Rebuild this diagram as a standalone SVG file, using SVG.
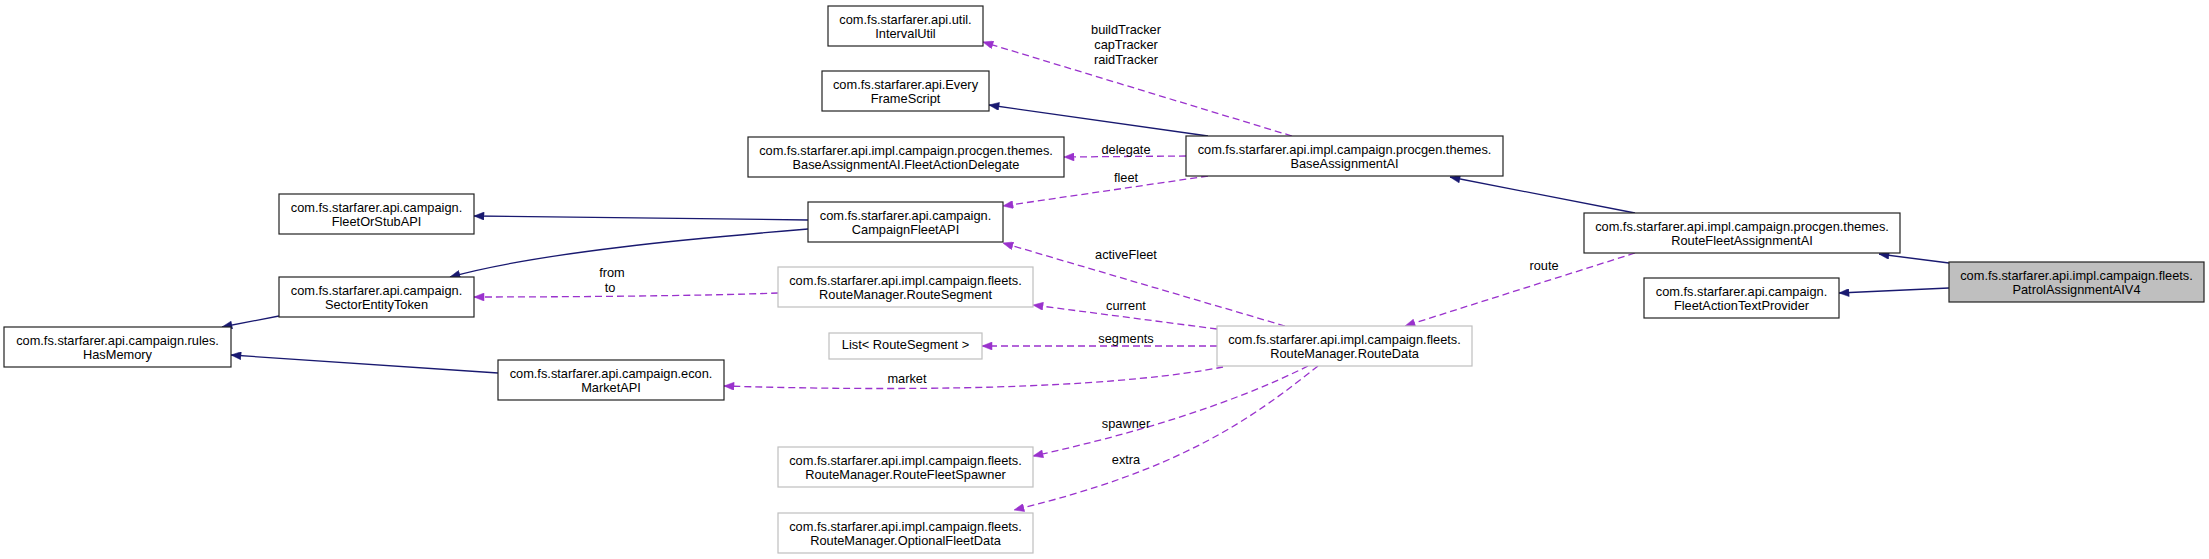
<svg xmlns="http://www.w3.org/2000/svg" width="2209" height="559" viewBox="0 0 2209 559">
<style>
text{font-family:"Liberation Sans",Arial,Helvetica,sans-serif;font-size:12.8px;fill:#000;text-anchor:middle}
.n{fill:#fff;stroke:#222;stroke-width:1.2}
.u{fill:#fff;stroke:#bfbfbf;stroke-width:1.2}
.me{fill:#bfbfbf;stroke:#222;stroke-width:1.2}
.s{fill:none;stroke:#191970;stroke-width:1.3}
.d{fill:none;stroke:#9a32cd;stroke-width:1.3;stroke-dasharray:7,4}
</style>
<defs>
<marker id="as" viewBox="0 0 10 8" refX="10" refY="4" markerWidth="11" markerHeight="8" markerUnits="userSpaceOnUse" orient="auto"><path d="M0,0 L10,4 L0,8 z" fill="#191970" stroke="#191970" stroke-width="0.5"/></marker>
<marker id="ad" viewBox="0 0 10 8" refX="10" refY="4" markerWidth="11" markerHeight="8" markerUnits="userSpaceOnUse" orient="auto"><path d="M0,0 L10,4 L0,8 z" fill="#9a32cd" stroke="#9a32cd" stroke-width="0.5"/></marker>
</defs>
<g id="connectors">
<path class="s" d="M1949,263 L1879,254" marker-end="url(#as)"/>
<path class="s" d="M1949,288 L1839,293" marker-end="url(#as)"/>
<path class="s" d="M1635,213 L1450,177" marker-end="url(#as)"/>
<path class="d" d="M1635,253 L1405,326" marker-end="url(#ad)"/>
<path class="d" d="M1292,136 L983,42" marker-end="url(#ad)"/>
<path class="s" d="M1208,136 L989,105" marker-end="url(#as)"/>
<path class="d" d="M1186,156 L1064,157" marker-end="url(#ad)"/>
<path class="d" d="M1208,176 L1003,206" marker-end="url(#ad)"/>
<path class="d" d="M1285,326 L1003,243" marker-end="url(#ad)"/>
<path class="d" d="M1217,329 L1033,305" marker-end="url(#ad)"/>
<path class="d" d="M1217,346 L982,346" marker-end="url(#ad)"/>
<path class="d" d="M1223,367 C1130,385 960,393 724,386" marker-end="url(#ad)"/>
<path class="d" d="M1308,366 C1230,405 1130,435 1033,456" marker-end="url(#ad)"/>
<path class="d" d="M1318,366 C1250,420 1180,470 1014,510" marker-end="url(#ad)"/>
<path class="s" d="M808,220 L474,216" marker-end="url(#as)"/>
<path class="s" d="M808,229 C700,238 540,252 450,277" marker-end="url(#as)"/>
<path class="d" d="M778,293 C700,296 560,297 474,297" marker-end="url(#ad)"/>
<path class="s" d="M279,316 L222,327" marker-end="url(#as)"/>
<path class="s" d="M498,373 L231,355" marker-end="url(#as)"/>
<text x="1126" y="33.5">buildTracker</text>
<text x="1126" y="48.5">capTracker</text>
<text x="1126" y="63.5">raidTracker</text>
<text x="1126" y="153.5">delegate</text>
<text x="1126" y="181.5">fleet</text>
<text x="1126" y="258.5">activeFleet</text>
<text x="1544" y="269.5">route</text>
<text x="1126" y="309.5">current</text>
<text x="1126" y="342.5">segments</text>
<text x="907" y="382.5">market</text>
<text x="1126" y="427.5">spawner</text>
<text x="1126" y="463.5">extra</text>
<text x="612" y="276.5">from</text>
<text x="610" y="291.5">to</text>
</g>
<g id="PatrolAssignmentAIV4">
<rect class="me" x="1949" y="262" width="255" height="40"/>
<text x="2076.5" y="279.5">com.fs.starfarer.api.impl.campaign.fleets.</text>
<text x="2076.5" y="293.5">PatrolAssignmentAIV4</text>
</g>
<g id="RouteFleetAssignmentAI">
<rect class="n" x="1584" y="213" width="316" height="40"/>
<text x="1742" y="230.5">com.fs.starfarer.api.impl.campaign.procgen.themes.</text>
<text x="1742" y="244.5">RouteFleetAssignmentAI</text>
</g>
<g id="FleetActionTextProvider">
<rect class="n" x="1644" y="278" width="195" height="40"/>
<text x="1741.5" y="295.5">com.fs.starfarer.api.campaign.</text>
<text x="1741.5" y="309.5">FleetActionTextProvider</text>
</g>
<g id="BaseAssignmentAI">
<rect class="n" x="1186" y="136" width="317" height="40"/>
<text x="1344.5" y="153.5">com.fs.starfarer.api.impl.campaign.procgen.themes.</text>
<text x="1344.5" y="167.5">BaseAssignmentAI</text>
</g>
<g id="RouteData">
<rect class="u" x="1217" y="326" width="255" height="40"/>
<text x="1344.5" y="343.5">com.fs.starfarer.api.impl.campaign.fleets.</text>
<text x="1344.5" y="357.5">RouteManager.RouteData</text>
</g>
<g id="IntervalUtil">
<rect class="n" x="828" y="6" width="155" height="40"/>
<text x="905.5" y="23.5">com.fs.starfarer.api.util.</text>
<text x="905.5" y="37.5">IntervalUtil</text>
</g>
<g id="EveryFrameScript">
<rect class="n" x="822" y="71" width="167" height="40"/>
<text x="905.5" y="88.5">com.fs.starfarer.api.Every</text>
<text x="905.5" y="102.5">FrameScript</text>
</g>
<g id="FleetActionDelegate">
<rect class="n" x="748" y="137" width="316" height="40"/>
<text x="906" y="154.5">com.fs.starfarer.api.impl.campaign.procgen.themes.</text>
<text x="906" y="168.5">BaseAssignmentAI.FleetActionDelegate</text>
</g>
<g id="CampaignFleetAPI">
<rect class="n" x="808" y="202" width="195" height="40"/>
<text x="905.5" y="219.5">com.fs.starfarer.api.campaign.</text>
<text x="905.5" y="233.5">CampaignFleetAPI</text>
</g>
<g id="RouteSegment">
<rect class="u" x="778" y="267" width="255" height="40"/>
<text x="905.5" y="284.5">com.fs.starfarer.api.impl.campaign.fleets.</text>
<text x="905.5" y="298.5">RouteManager.RouteSegment</text>
</g>
<g id="ListRouteSegment">
<rect class="u" x="829" y="333" width="153" height="26"/>
<text x="905.5" y="348.5">List&lt; RouteSegment &gt;</text>
</g>
<g id="RouteFleetSpawner">
<rect class="u" x="778" y="447" width="255" height="40"/>
<text x="905.5" y="464.5">com.fs.starfarer.api.impl.campaign.fleets.</text>
<text x="905.5" y="478.5">RouteManager.RouteFleetSpawner</text>
</g>
<g id="OptionalFleetData">
<rect class="u" x="778" y="513" width="255" height="40"/>
<text x="905.5" y="530.5">com.fs.starfarer.api.impl.campaign.fleets.</text>
<text x="905.5" y="544.5">RouteManager.OptionalFleetData</text>
</g>
<g id="MarketAPI">
<rect class="n" x="498" y="360" width="226" height="40"/>
<text x="611" y="377.5">com.fs.starfarer.api.campaign.econ.</text>
<text x="611" y="391.5">MarketAPI</text>
</g>
<g id="FleetOrStubAPI">
<rect class="n" x="279" y="194" width="195" height="40"/>
<text x="376.5" y="211.5">com.fs.starfarer.api.campaign.</text>
<text x="376.5" y="225.5">FleetOrStubAPI</text>
</g>
<g id="SectorEntityToken">
<rect class="n" x="279" y="277" width="195" height="40"/>
<text x="376.5" y="294.5">com.fs.starfarer.api.campaign.</text>
<text x="376.5" y="308.5">SectorEntityToken</text>
</g>
<g id="HasMemory">
<rect class="n" x="4" y="327" width="227" height="40"/>
<text x="117.5" y="344.5">com.fs.starfarer.api.campaign.rules.</text>
<text x="117.5" y="358.5">HasMemory</text>
</g>
</svg>
